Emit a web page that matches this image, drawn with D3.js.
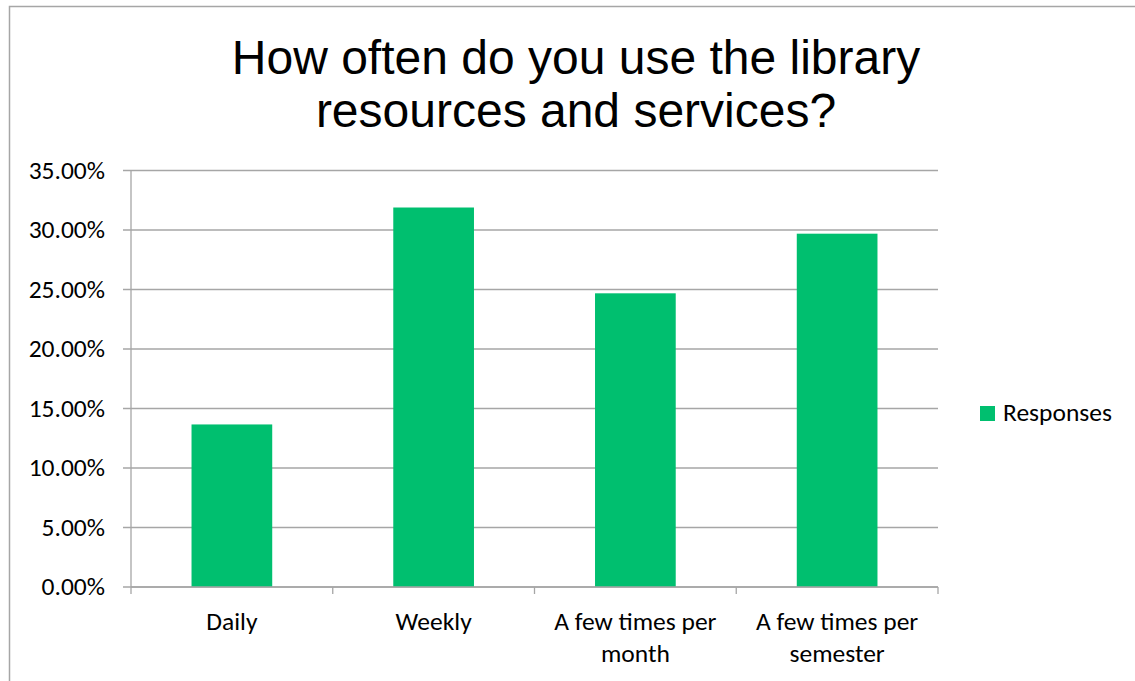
<!DOCTYPE html>
<html><head><meta charset="utf-8">
<script src="https://cdn.jsdelivr.net/npm/d3@7"></script>
<style>body{margin:0;background:#fff}svg{display:block}</style>
</head><body>
<script>
const categories = [["Daily"], ["Weekly"], ["A few times per", "month"], ["A few times per", "semester"]];
const values = [0.1366, 0.3189, 0.2468, 0.2969];
const yTicks = [0, 0.05, 0.10, 0.15, 0.20, 0.25, 0.30, 0.35];
const seriesName = "Responses";
const titleLines = ["How often do you use the library", "resources and services?"];

(function(){
const W = 1135, H = 681;
const svg = d3.select("body").append("svg").attr("width", W).attr("height", H);
const labelFont = "Carlito, Calibri, Lato, sans-serif";
const fs = 25.5;

svg.append("path").attr("d", `M9.5,${H+5} V6.5 H${W+5}`).attr("fill","none").attr("stroke","#a6a6a6").attr("stroke-width",1.5);

const pL = 131, pR = 938, pT = 170.5, pB = 587;
const x = d3.scaleBand().domain(d3.range(categories.length)).range([pL, pR]).paddingInner(0.6).paddingOuter(0.3);
const xb = d3.scaleBand().domain(d3.range(categories.length)).range([pL, pR]);
const y = d3.scaleLinear().domain([0, 0.35]).range([pB, pT]);

svg.append("g").selectAll("line").data(yTicks).join("line")
  .attr("x1", pL - 8).attr("x2", pR).attr("y1", d => y(d)).attr("y2", d => y(d))
  .attr("stroke", "#a6a6a6").attr("stroke-width", 1.3);

svg.append("g").selectAll("rect").data(values).join("rect")
  .attr("x", (d,i) => x(i)).attr("width", x.bandwidth())
  .attr("y", d => y(d)).attr("height", d => pB - y(d))
  .attr("fill", "#00bf6f");

svg.append("line").attr("x1", pL).attr("x2", pL).attr("y1", pT).attr("y2", pB)
  .attr("stroke", "#a6a6a6").attr("stroke-width", 1.3);
svg.append("line").attr("x1", pL).attr("x2", pR).attr("y1", pB).attr("y2", pB)
  .attr("stroke", "#a6a6a6").attr("stroke-width", 1.3);
const xTickPos = d3.range(categories.length).map(i => xb(i)).concat([pR]);
svg.append("g").selectAll("line").data(xTickPos).join("line")
  .attr("x1", d => d).attr("x2", d => d).attr("y1", pB).attr("y2", pB + 7)
  .attr("stroke", "#a6a6a6").attr("stroke-width", 1.3);

svg.append("g").selectAll("text").data(yTicks).join("text")
  .attr("x", 105).attr("y", d => y(d)).attr("dy", "0.33em")
  .attr("text-anchor", "end").attr("font-family", labelFont).attr("font-size", fs)
  .attr("fill", "#000").text(d => d3.format(".2%")(d));

const xl = svg.append("g").selectAll("text").data(categories).join("text")
  .attr("text-anchor", "middle").attr("font-family", labelFont).attr("font-size", fs).attr("fill", "#000");
xl.selectAll("tspan").data((d,i) => d.map(t => ({t, i}))).join("tspan")
  .attr("x", d => xb(d.i) + xb.bandwidth()/2).attr("y", (d,j) => 630 + j*32).text(d => d.t);

svg.append("g").selectAll("text").data(titleLines).join("text")
  .attr("x", 576).attr("y", (d,i) => 74 + i*53).attr("text-anchor", "middle")
  .attr("font-family", "Liberation Sans, Arial, sans-serif").attr("font-size", 48).attr("fill", "#000").text(d => d);

svg.append("rect").attr("x", 980).attr("y", 406).attr("width", 15).attr("height", 15).attr("fill", "#00bf6f");
svg.append("text").attr("x", 1003).attr("y", 421).attr("font-family", labelFont).attr("font-size", fs).attr("fill", "#000").text(seriesName);
})();
</script>
</body></html>
